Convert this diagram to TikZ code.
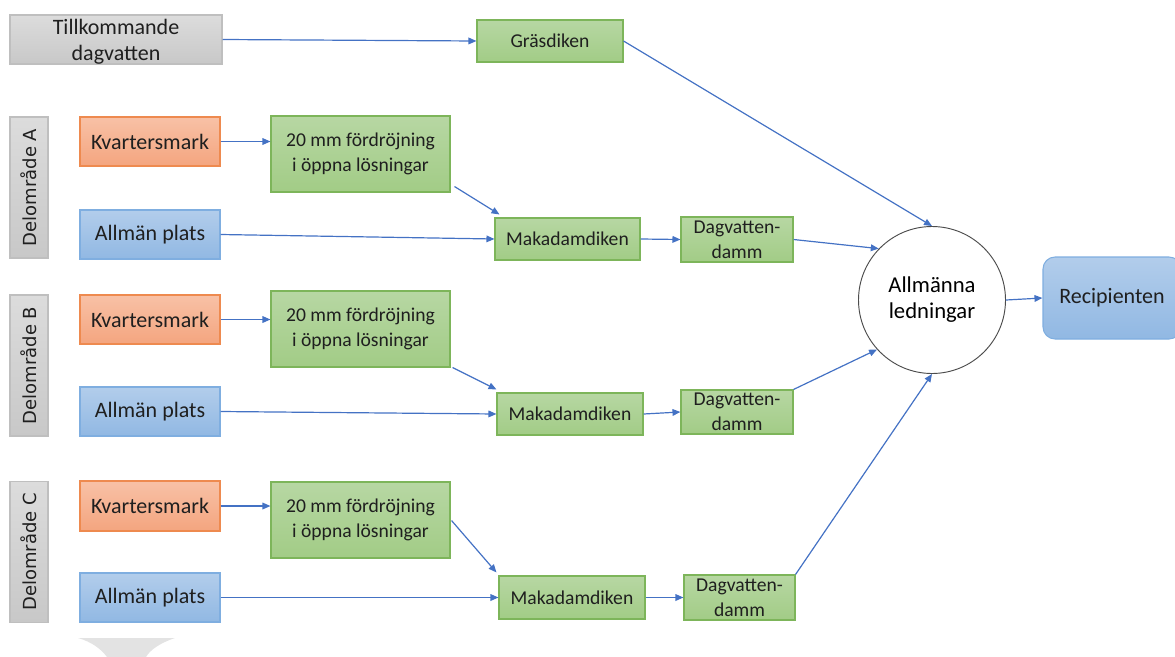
\documentclass[tikz,border=0pt]{standalone}
\usepackage{fontspec}
\setmainfont{Carlito}
\newfontfamily\delfont{DejaVu Sans}
\usetikzlibrary{arrows.meta}
\definecolor{pil}{HTML}{4472C4}
\definecolor{gronkant}{HTML}{7DB55A}
\definecolor{gronljus}{HTML}{B7D7A3}
\definecolor{gronmork}{HTML}{A2CC86}
\definecolor{orakant}{HTML}{EE8A4F}
\definecolor{oraljus}{HTML}{F8C1A6}
\definecolor{oramork}{HTML}{F4A57F}
\definecolor{blakant}{HTML}{7FAEE0}
\definecolor{blaljus}{HTML}{B2CDEB}
\definecolor{blamork}{HTML}{91B8E3}
\definecolor{grakant}{HTML}{BFBFBF}
\definecolor{graljus}{HTML}{DCDCDC}
\definecolor{gramork}{HTML}{C8C8C8}
\tikzset{
	ruta/.style 2 args={draw, line width=0.8pt, minimum width=#1*0.75pt, minimum height=#2*0.75pt, inner sep=0pt, align=center, text=black!88},
	stor/.style={font=\fontsize{16.5}{19.5}\selectfont},
	liten/.style={font=\fontsize{14.7}{18.5}\selectfont},
	gra/.style={draw=grakant, top color=graljus, bottom color=gramork},
	gron/.style={draw=gronkant, top color=gronljus, bottom color=gronmork, liten},
	ora/.style={draw=orakant, top color=oraljus, bottom color=oramork, stor},
	bla/.style={draw=blakant, top color=blaljus, bottom color=blamork, stor},
	omr/.style={ruta={141}{38}, gra, rotate=90, font=\delfont\fontsize{13.5}{16}\selectfont},
	pilen/.style={draw=pil, line width=0.9pt, -{Triangle[length=6pt,width=5pt]}}
}

\begin{document}
\begin{tikzpicture}[x=0.75pt, y=-0.75pt]
		%%%%% START %%%%%
		\useasboundingbox (0,0) rectangle (1175,657);
		
		% vattenmark nere till vanster
		\fill[black!11] (78,638) -- (175,638) .. controls (160,643) and (150,650) .. (146,657) -- (107,657) .. controls (101,649) and (92,642) .. (78,638);
		
		\node[ruta={212}{49}, gra] (till) at (116,39.5) {};
		\node[stor, align=center, text=black!88] (tilltext) at (116,42) {Tillkommande\\dagvatten};
		\node[ruta={146}{42}, gron] (gras) at (550,41) {Gräsdiken};
		
		% delomrade A
		\node[omr] (delA) at (29,187.5) {Delområde A};
		\node[ruta={140}{49}, ora] (kvA) at (150,141.5) {Kvartersmark};
		\node[ruta={179}{76}, gron] (mmA) at (360.5,154) {20 mm fördröjning\\i öppna lösningar};
		\node[ruta={140}{49}, bla] (allA) at (150,234.5) {Allmän plats};
		\node[ruta={145}{42}, gron] (makA) at (567.5,239) {Makadamdiken};
		\node[ruta={112}{45}, gron] (dagA) at (737,239.5) {Dagvatten-\\damm};
		
		% delomrade B
		\node[omr] (delB) at (29,365.5) {Delområde B};
		\node[ruta={140}{49}, ora] (kvB) at (150,319.5) {Kvartersmark};
		\node[ruta={179}{76}, gron] (mmB) at (360.5,329) {20 mm fördröjning\\i öppna lösningar};
		\node[ruta={140}{49}, bla] (allB) at (150,411.5) {Allmän plats};
		\node[ruta={146}{42}, gron] (makB) at (570,414) {Makadamdiken};
		\node[ruta={112}{44}, gron] (dagB) at (737,412) {Dagvatten-\\damm};
		
		% delomrade C
		\node[omr] (delC) at (29,552) {Delområde C};
		\node[ruta={140}{50}, ora] (kvC) at (150,506) {Kvartersmark};
		\node[ruta={179}{76}, gron] (mmC) at (360.5,520) {20 mm fördröjning\\i öppna lösningar};
		\node[ruta={140}{49}, bla] (allC) at (150,597.5) {Allmän plats};
		\node[ruta={146}{43}, gron] (makC) at (572,597.5) {Makadamdiken};
		\node[ruta={111}{45}, gron] (dagC) at (739.5,597.5) {Dagvatten-\\damm};
		
		\node[circle, draw=black!70, line width=0.7pt, fill=white, minimum size=147*0.75pt, inner sep=0pt, align=center, font=\fontsize{17}{19.5}\selectfont] (led) at (932,300) {Allmänna\\ledningar};
		\node[ruta={138}{82}, draw=blakant, top color=blaljus, bottom color=blamork, rounded corners=9pt, stor] (rec) at (1112,298) {Recipienten};
		
		% pilar
		\draw[pilen] (till.east) -- (gras.west);
		\draw[pilen] (gras.east) -- (led.90);
		
		\draw[pilen] (kvA.east) -- (mmA.west |- kvA.east);
		\draw[pilen] ([shift={(4,-6)}]mmA.south east) -- ([shift={(5,-3)}]makA.north west);
		\draw[pilen] (allA.east) -- (makA.west);
		\draw[pilen] (makA.east) -- (dagA.west);
		\draw[pilen] (dagA.east) -- (led.136);
		
		\draw[pilen] (kvB.east) -- (mmB.west |- kvB.east);
		\draw[pilen] ([shift={(2,0)}]mmB.south east) -- ([shift={(0,-3)}]makB.north west);
		\draw[pilen] (allB.east) -- (makB.west);
		\draw[pilen] (makB.east) -- (dagB.west);
		\draw[pilen] (dagB.north east) -- (led.222);
		
		\draw[pilen] (kvC.east) -- (mmC.west |- kvC.east);
		\draw[pilen] ([shift={(1,-38)}]mmC.south east) -- ([shift={(-2,-3)}]makC.north west);
		\draw[pilen] (allC.east) -- (makC.west);
		\draw[pilen] (makC.east) -- (dagC.west);
		\draw[pilen] (dagC.north east) -- (led.270);
		
		\draw[pilen] (led.east) -- (rec.west);
		
		%%%%% END %%%%%
	\end{tikzpicture}
\end{document}
